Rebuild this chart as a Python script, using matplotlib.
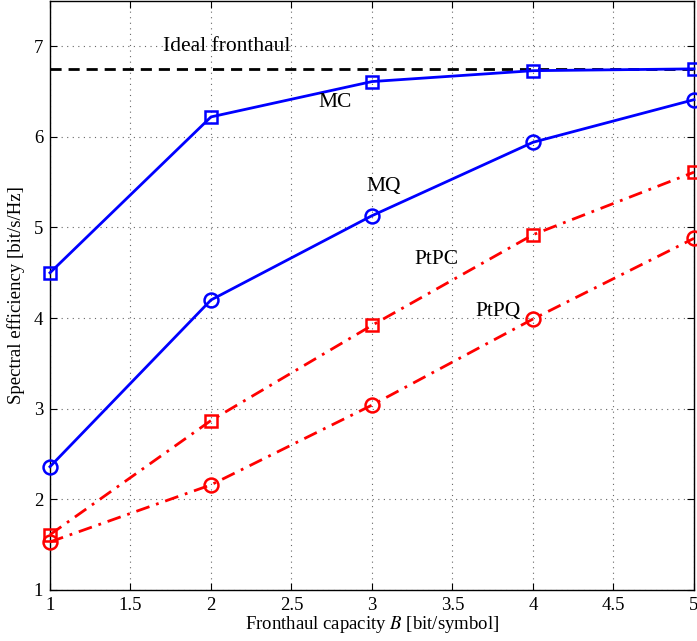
import numpy as np
import matplotlib
matplotlib.use('Agg')
import matplotlib.pyplot as plt

plt.rcParams['font.family'] = ['Liberation Serif', 'DejaVu Serif']
plt.rcParams['mathtext.fontset'] = 'stix'

# data
capacity = [1, 2, 3, 4, 5]
mc = [4.50, 6.22, 6.61, 6.73, 6.75]
mq = [2.36, 4.20, 5.13, 5.94, 6.41]
ptpc = [1.61, 2.87, 3.92, 4.92, 5.61]
ptpq = [1.53, 2.16, 3.04, 3.99, 4.88]
ideal = 6.75

fig = plt.figure(figsize=(6.97, 6.41), dpi=100)
ax = fig.add_axes([0.0717, 0.0796, 0.9240, 0.9190])

ax.axhline(ideal, color='black', linestyle='--', linewidth=2, dashes=(4, 2.5), zorder=2)
ax.plot(capacity, mc, color='blue', linewidth=2, marker='s', markersize=8,
        markerfacecolor='none', markeredgewidth=1.8, clip_on=False, zorder=3)
ax.plot(capacity, mq, color='blue', linewidth=2, marker='o', markersize=10,
        markerfacecolor='none', markeredgewidth=1.8, clip_on=False, zorder=3)
ax.plot(capacity, ptpc, color='red', linewidth=2, linestyle='-.', dashes=(5, 2.5, 1, 2.5),
        marker='s', markersize=8, markerfacecolor='none', markeredgewidth=1.8,
        clip_on=False, zorder=3)
ax.plot(capacity, ptpq, color='red', linewidth=2, linestyle='-.', dashes=(5, 2.5, 1, 2.5),
        marker='o', markersize=10, markerfacecolor='none', markeredgewidth=1.8,
        clip_on=False, zorder=3)

fs = 15.5
ax.text(2.1, 7.0, 'Ideal fronthaul', fontsize=fs, ha='center', va='center')
ax.text(2.77, 6.38, 'MC', fontsize=fs, ha='center', va='center')
ax.text(3.07, 5.45, 'MQ', fontsize=fs, ha='center', va='center')
ax.text(3.40, 4.65, 'PtPC', fontsize=fs, ha='center', va='center')
ax.text(3.78, 4.07, 'PtPQ', fontsize=fs, ha='center', va='center')

ax.set_xlim(1, 5)
ax.set_ylim(1, 7.5)
ax.set_xticks(np.arange(1, 5.01, 0.5))
ax.set_xticklabels(['1', '1.5', '2', '2.5', '3', '3.5', '4', '4.5', '5'])
ax.set_yticks(range(1, 8))
ax.tick_params(direction='in', top=True, right=True, labelsize=13.5, length=5, pad=5)
ax.grid(True, linestyle=(0, (1, 4)), color='0.4', linewidth=0.8)
for s in ax.spines.values():
    s.set_linewidth(1.0)

ax.set_xlabel('Fronthaul capacity $B$ [bit/symbol]', fontsize=13.5, labelpad=0)
ax.set_ylabel('Spectral efficiency [bit/s/Hz]', fontsize=13.5, labelpad=6)

fig.savefig('out.png', dpi=100)
